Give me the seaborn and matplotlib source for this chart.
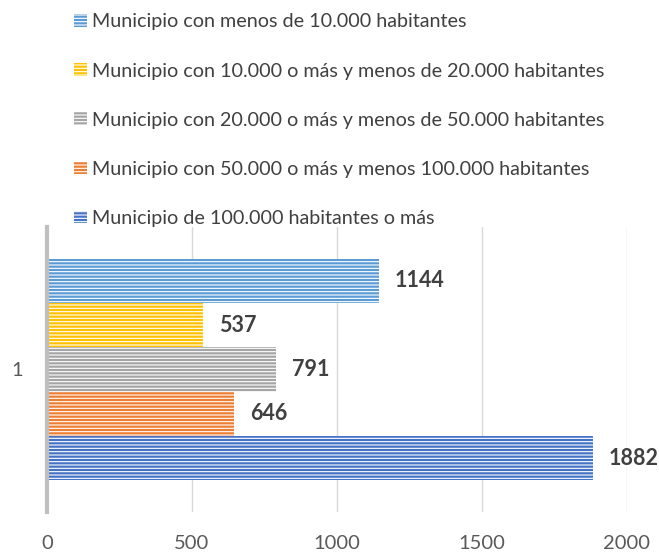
import matplotlib
matplotlib.use("Agg")
import matplotlib.pyplot as plt
import matplotlib.patches as mpatches
import seaborn as sns

# Data
categories = [
    'Municipio con menos de 10.000 habitantes',
    'Municipio con 10.000 o más y menos de 20.000 habitantes',
    'Municipio con 20.000 o más y menos de 50.000 habitantes',
    'Municipio con 50.000 o más y menos 100.000 habitantes',
    'Municipio de 100.000 habitantes o más',
]
values = [1144, 537, 791, 646, 1882]
group = ['1'] * len(values)
colors = ['#5b9bd5', '#ffc000', '#a5a5a5', '#ed7d31', '#4472c4']
x_ticks = [0, 500, 1000, 1500, 2000]

sns.set_style('white')
plt.rcParams['font.family'] = ['Lato', 'DejaVu Sans']
plt.rcParams['hatch.linewidth'] = 0.8

fig = plt.figure(figsize=(6.59, 5.53), dpi=100)
ax = fig.add_axes([0.0713, 0.0741, 0.880, 0.5155])

sns.barplot(x=values, y=group, hue=categories, palette=colors,
            orient='h', width=0.8, legend=False, ax=ax, saturation=1)

# striped fill like the original
for bar, c in zip(ax.patches, colors):
    bar.set_facecolor(c)
    bar.set_edgecolor('white')
    bar.set_hatch('-----')
    bar.set_linewidth(0)

for bar, v in zip(ax.patches, values):
    ax.text(bar.get_width() + 55, bar.get_y() + bar.get_height() / 2, str(v),
            ha='left', va='center', fontsize=15.5, fontweight='bold', color='#404040')

ax.set_xlim(0, 2000)
ax.set_ylim(0.515, -0.515)
ax.set_xticks(x_ticks)
ax.tick_params(axis='x', colors='#595959', labelsize=14.5, length=0, pad=16.5)
ax.tick_params(axis='y', colors='#595959', labelsize=14.5, length=0, pad=17)
ax.grid(axis='x', color='#d9d9d9', linewidth=1)
ax.set_axisbelow(True)
for s in ['top', 'right', 'bottom']:
    ax.spines[s].set_visible(False)
ax.spines['left'].set_color('#bfbfbf')
ax.spines['left'].set_linewidth(3)

handles = [mpatches.Patch(facecolor=c, edgecolor='white', hatch='-----', linewidth=0)
           for c in colors]
fig.legend(handles, categories, loc='upper left', bbox_to_anchor=(0.1, 0.99),
           frameon=False, fontsize=14.2, labelcolor='#404040',
           handlelength=0.66, handleheight=0.6, handletextpad=0.25,
           labelspacing=1.63, borderaxespad=0)

fig.savefig('out.png', dpi=100)
